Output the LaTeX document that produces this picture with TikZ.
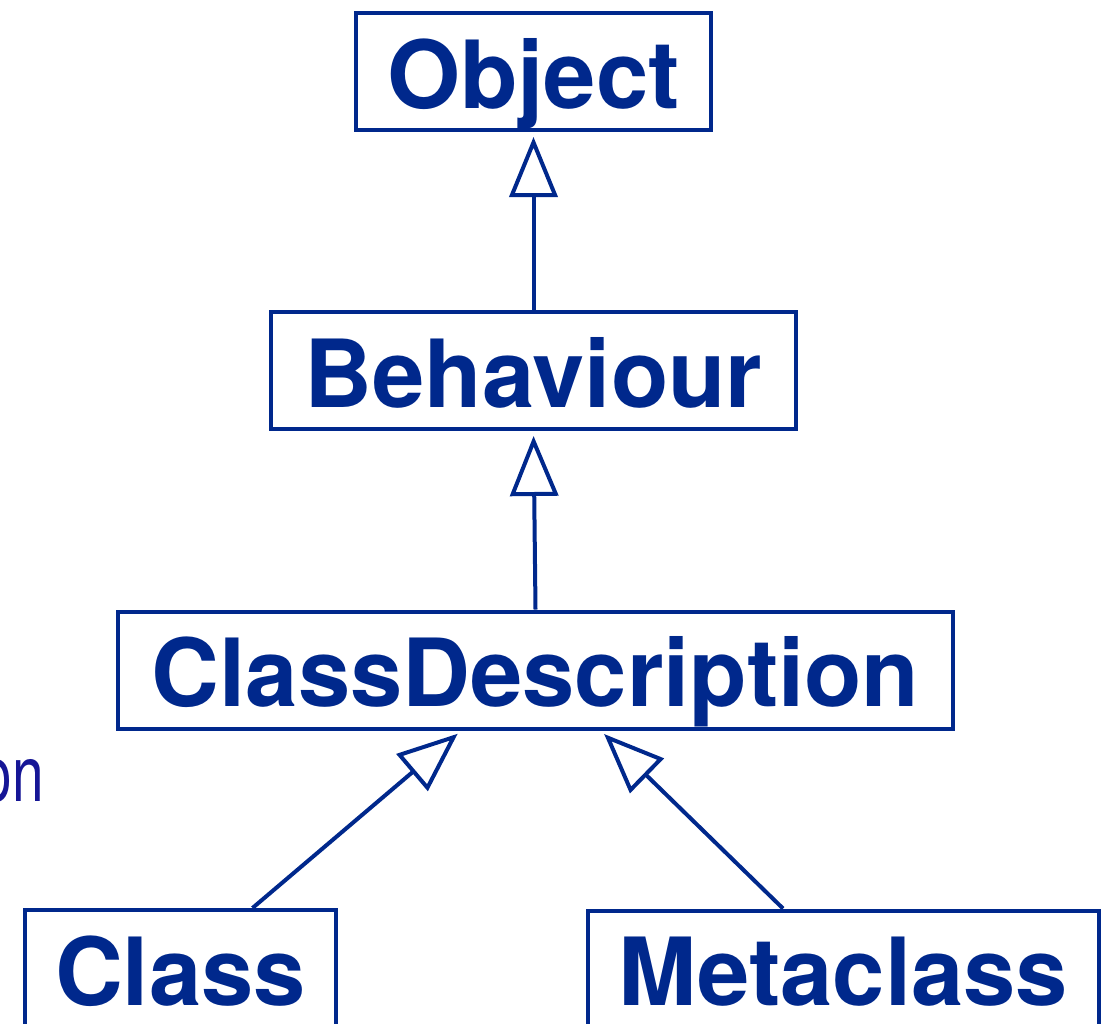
\documentclass[tikz,border=0pt]{standalone}
\usepackage{fontspec}
\setsansfont{TeX Gyre Heros}
\usepackage{tikz}
\usetikzlibrary{arrows.meta, positioning, calc}
\usepackage{xcolor}
\definecolor{umlblue}{RGB}{0,40,140}
\definecolor{lblblue}{RGB}{22,22,150}

\begin{document}
\begin{tikzpicture}[x=1pt, y=1pt,
    umlbox/.style={draw=umlblue, line width=4pt, inner sep=0pt, minimum height=117pt,
      text height=73pt, text depth=0pt, text=umlblue,
      font=\sffamily\bfseries\fontsize{94}{100}\selectfont},
    inherit/.style={draw=umlblue, line width=4pt, shorten >=5pt,
      -{Triangle[length=60pt, width=48pt, fill=white]}}]

      \useasboundingbox (0,0) rectangle (1110,-1023);

      \node[umlbox, minimum width=355pt] (obj) at (533.5,-71.5) {Object};
      \node[umlbox, minimum width=525pt] (beh) at (533.5,-370.5) {Behaviour};
      \node[umlbox, minimum width=835pt] (cdesc) at (535.5,-670) {ClassDescription};
      \node[umlbox, minimum width=311pt] (cls) at (180.5,-968.5) {Class};
      \node[umlbox, minimum width=511pt] (meta) at (843.5,-969) {Metaclass};

      \node[anchor=base east, inner sep=0pt, text=lblblue, xscale=0.73,
        font=\sffamily\fontsize{78}{84}\selectfont] (lbl) at (44,-801) {on};

      \draw[inherit] (beh.north) -- (obj.south);
      \draw[inherit] (cdesc.north) -- (beh.south);
      \draw[inherit] ([xshift=72pt]cls.north) -- ([xshift=-74pt]cdesc.south);
      \draw[inherit] ([xshift=-60.5pt]meta.north) -- ([xshift=65pt]cdesc.south);
    \end{tikzpicture}
\end{document}
